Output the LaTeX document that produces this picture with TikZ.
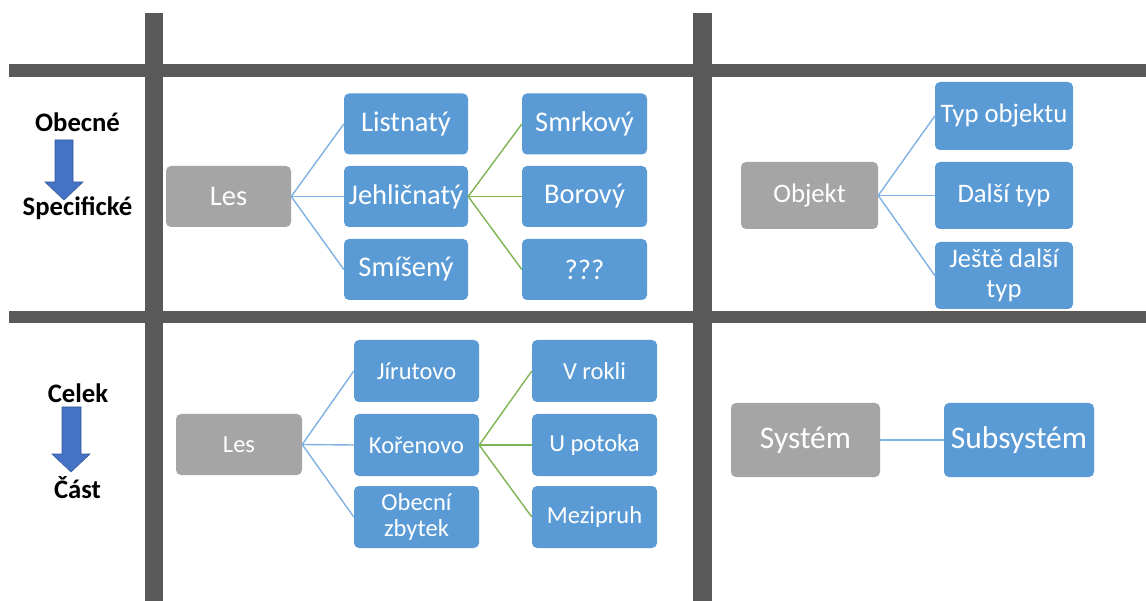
\documentclass[tikz,border=0pt]{standalone}
\usepackage{fontspec}
\setmainfont{Carlito}
\definecolor{gridgray}{HTML}{595959}
\definecolor{rootgray}{HTML}{A5A5A5}
\definecolor{boxblue}{HTML}{5B9BD5}
\definecolor{linkblue}{HTML}{7FB2E3}
\definecolor{linkgreen}{HTML}{7DB554}
\definecolor{arrowblue}{HTML}{4472C4}
\begin{document}
\begin{tikzpicture}[x=1pt,y=-1pt,
  gridbar/.style={fill=gridgray},
  rootbox/.style={fill=rootgray, rounded corners=5pt, text=white, inner sep=2pt, align=center},
  childbox/.style={fill=boxblue, rounded corners=5pt, text=white, inner sep=2pt, align=center},
  bluelink/.style={draw=linkblue, line width=1.4pt},
  greenlink/.style={draw=linkgreen, line width=1.4pt},
  sidelabel/.style={font=\bfseries\fontsize{26.7}{30}\selectfont, text=black, inner sep=0pt},
  tlsize/.style={minimum width=124pt, minimum height=61pt, font=\fontsize{28.5}{32}\selectfont},
  trsize/.style={minimum width=138pt, minimum height=67pt, font=\fontsize{26.7}{30}\selectfont},
  blsize/.style={minimum width=125pt, minimum height=62pt, font=\fontsize{24.5}{26}\selectfont},
  brsize/.style={minimum width=149pt, minimum height=74pt, font=\fontsize{31.5}{34}\selectfont},
  downarrow/.style={fill=arrowblue, draw=arrowblue!80!black, line width=0.6pt}
]
\useasboundingbox (0,0) rectangle (1146,601);
\fill[white] (0,0) rectangle (1146,601);

% grid
\fill[gridbar] (9,64) rectangle (1146,77);
\fill[gridbar] (9,311) rectangle (1146,323);
\fill[gridbar] (145,13) rectangle (163,601);
\fill[gridbar] (693,13) rectangle (712,601);

% side labels and arrows
\node[sidelabel] (obecne) at (77.5,122) {Obecné};
\node[sidelabel] (specif) at (77.5,208) {Specifické};
\fill[downarrow] (55,140) -- (73,140) -- (73,182) -- (83,182) -- (64,200) -- (45,182) -- (55,182) -- cycle;
\node[sidelabel] (celek) at (78,393) {Celek};
\node[sidelabel] (cast) at (77.5,488) {Část};
\fill[downarrow] (62,407) -- (81,407) -- (81,454) -- (90,454) -- (71,472) -- (52,454) -- (62,454) -- cycle;

% top-left
\node[rootbox, tlsize, minimum width=125pt] (lesA) at (228.5,196.5) {Les};
\node[childbox, tlsize] (listnaty) at (406,124) {Listnatý};
\node[childbox, tlsize] (jehl) at (406,196.5) {Jehličnatý};
\node[childbox, tlsize] (smis) at (406,269.5) {Smíšený};
\node[childbox, tlsize, minimum width=125pt] (smrk) at (584.5,124) {Smrkový};
\node[childbox, tlsize, minimum width=125pt] (bor) at (584.5,196.5) {Borový};
\node[childbox, tlsize, minimum width=125pt] (qqq) at (584.5,269.5) {???};
\draw[bluelink] (lesA.east) -- (listnaty.west);
\draw[bluelink] (lesA.east) -- (jehl.west);
\draw[bluelink] (lesA.east) -- (smis.west);
\draw[greenlink] (jehl.east) -- (smrk.west);
\draw[greenlink] (jehl.east) -- (bor.west);
\draw[greenlink] (jehl.east) -- (qqq.west);

% top-right
\node[rootbox, trsize, minimum width=137pt] (objekt) at (809.5,195.5) {Objekt};
\node[childbox, trsize, minimum height=68pt] (typobj) at (1004,116) {Typ objektu};
\node[childbox, trsize] (dalsi) at (1004,195.5) {Další typ};
\node[childbox, trsize] (jeste) at (1004,275.5) {Ještě další\\typ};
\draw[bluelink] (objekt.east) -- (typobj.west);
\draw[bluelink] (objekt.east) -- (dalsi.west);
\draw[bluelink] (objekt.east) -- (jeste.west);

% bottom-left
\node[rootbox, blsize, minimum width=126pt, minimum height=61pt] (lesB) at (239,444.5) {Les};
\node[childbox, blsize] (jir) at (416.5,371) {Jírutovo};
\node[childbox, blsize] (kor) at (416.5,445) {Kořenovo};
\node[childbox, blsize] (obec) at (416.5,517) {Obecní\\zbytek};
\node[childbox, blsize] (vrok) at (594.5,371) {V rokli};
\node[childbox, blsize] (upot) at (594.5,445) {U potoka};
\node[childbox, blsize] (mezi) at (594.5,517) {Mezipruh};
\draw[bluelink] (lesB.east) -- (jir.west);
\draw[bluelink] (lesB.east) -- (kor.west);
\draw[bluelink] (lesB.east) -- (obec.west);
\draw[greenlink] (kor.east) -- (vrok.west);
\draw[greenlink] (kor.east) -- (upot.west);
\draw[greenlink] (kor.east) -- (mezi.west);

% bottom-right
\node[rootbox, brsize] (sys) at (805.5,440) {Systém};
\node[childbox, brsize, minimum width=150pt] (sub) at (1019,440) {Subsystém};
\draw[bluelink] (sys.east) -- (sub.west);
\end{tikzpicture}
\end{document}
